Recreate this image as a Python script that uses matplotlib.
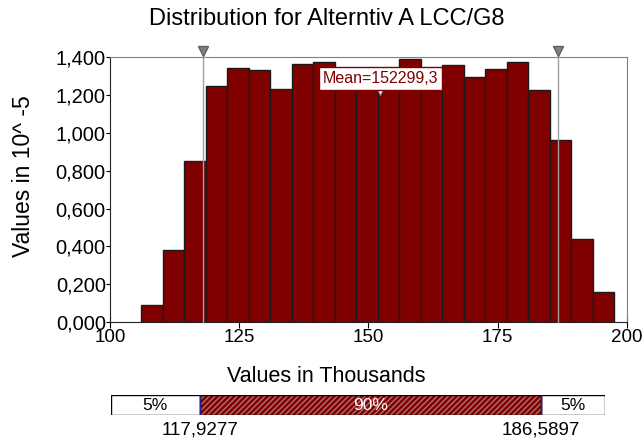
import numpy as np
import matplotlib
matplotlib.use("Agg")
import matplotlib.pyplot as plt
from matplotlib.patches import Rectangle

plt.rcParams['font.family'] = ['Liberation Sans', 'DejaVu Sans']

# Data
bin_lo, bin_hi = 106.1, 197.5
heights = [0.09, 0.38, 0.85, 1.247, 1.345, 1.331, 1.234, 1.366, 1.375, 1.30, 1.33,
           1.27, 1.392, 1.31, 1.361, 1.293, 1.34, 1.372, 1.226, 0.961, 0.438, 0.157]
p5, p95 = 117.9277, 186.5897
mean_val = 152.2993
mean_text = "Mean=152299,3"
yticks = [0.0, 0.2, 0.4, 0.6, 0.8, 1.0, 1.2, 1.4]
xticks = [100, 125, 150, 175, 200]
pct_labels = ["5%", "90%", "5%"]

dark_red = '#800000'

fig = plt.figure(figsize=(6.43, 4.43), dpi=100)
ax = fig.add_axes([0.171, 0.273, 0.804, 0.598])

edges = np.linspace(bin_lo, bin_hi, len(heights) + 1)
ax.bar(edges[:-1], heights, width=np.diff(edges), align='edge',
       color=dark_red, edgecolor='#1a1a1a', linewidth=1.0, zorder=2)

ax.set_xlim(100, 200)
ax.set_ylim(0, 1.4)
ax.set_xticks(xticks)
ax.set_xticklabels([str(v) for v in xticks])
ax.set_yticks(yticks)
ax.set_yticklabels([f"{v:.3f}".replace('.', ',') for v in yticks])
ax.tick_params(axis='x', direction='inout', length=8, labelsize=13.5, pad=1)
ax.tick_params(axis='y', direction='out', length=3, labelsize=14.5, pad=0)
for s in ['top', 'right']:
    ax.spines[s].set_color('#808080')
for s in ['left', 'bottom']:
    ax.spines[s].set_color('#222222')

# percentile lines with triangles on top
for v in (p5, p95):
    ax.plot([v, v], [0, 1.43], color='#a0a0a0', lw=1.0, zorder=3, clip_on=False)
    ax.plot([v], [1.43], marker='v', ms=7, color='#808080', mec='#606060',
            zorder=4, clip_on=False)

# mean marker + label
ax.plot([mean_val], [1.22], marker='v', ms=6, color='white', mec='#808080',
        mew=0.8, zorder=5)
ax.text(mean_val, 1.289, mean_text, ha='center', va='center', fontsize=11.5,
        color=dark_red, zorder=6,
        bbox=dict(boxstyle='square,pad=0.25', fc='white', ec=dark_red, lw=1))

fig.text(24 / 643, 1 - 176.5 / 443, "Values in 10^ -5", rotation=90,
         ha='center', va='center', fontsize=16.5)
fig.text(0.508, 0.957, "Distribution for Alterntiv A LCC/G8", ha='center',
         va='center', fontsize=17)
fig.text(0.508, 0.149, "Values in Thousands", ha='center', va='center',
         fontsize=15.5)

# percentile strip
bx = fig.add_axes([0.172, 0.0632, 0.769, 0.045])
bx.set_xlim(100, 199.5)
bx.set_ylim(0, 1)
bx.axis('off')
bx.add_patch(Rectangle((100, 0), p5 - 100, 1, fc='white', ec='black', lw=1))
bx.add_patch(Rectangle((p95, 0), 199.5 - p95, 1, fc='white', ec='black', lw=1))
bx.add_patch(Rectangle((p5, 0), p95 - p5, 1, fc=dark_red, ec='#b07070',
                       lw=0, hatch='//////'))
bx.add_patch(Rectangle((p5, 0), p95 - p5, 1, fc='none', ec='black', lw=1))
bx.plot([p5, p5], [0, 1], color='#202080', lw=1)
bx.plot([p95, p95], [0, 1], color='#202080', lw=1)
bx.text((100 + p5) / 2, 0.5, pct_labels[0], ha='center', va='center', fontsize=12.5)
bx.text((p5 + p95) / 2, 0.5, pct_labels[1], ha='center', va='center', fontsize=12.5,
        color='white')
bx.text((p95 + 199.5) / 2, 0.5, pct_labels[2], ha='center', va='center', fontsize=12.5)
bx.text(p5, -0.75, f"{p5:.4f}".replace('.', ','), ha='center', va='center', fontsize=13.5)
bx.text(p95, -0.75, f"{p95:.4f}".replace('.', ','), ha='center', va='center', fontsize=13.5)

fig.savefig("out.png", dpi=100)
